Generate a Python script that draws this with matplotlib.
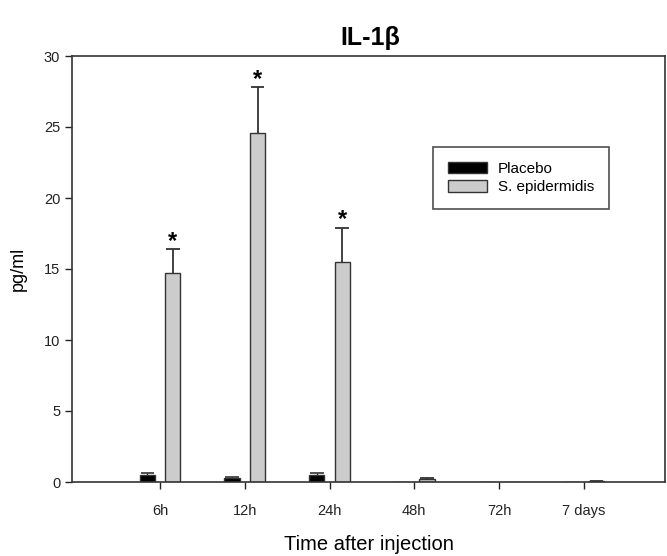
import matplotlib
matplotlib.use("Agg")
import matplotlib.pyplot as plt
import numpy as np

plt.rcParams['font.family'] = ['Liberation Sans', 'DejaVu Sans']

categories = ['6h', '12h', '24h', '48h', '72h', '7 days']
placebo = [0.5, 0.25, 0.5, 0.0, 0.0, 0.0]
placebo_err = [0.15, 0.1, 0.15, 0.0, 0.0, 0.0]
epi = [14.7, 24.6, 15.5, 0.22, 0.0, 0.06]
epi_err = [1.7, 3.2, 2.4, 0.05, 0.0, 0.02]
significant = [True, True, True, False, False, False]

fig = plt.figure(figsize=(6.67, 5.56), dpi=100)
ax = fig.add_axes([72/667, 1-482/556, (665-72)/667, (482-56)/556])

x = np.arange(1, len(categories) + 1)
w = 0.18
off = 0.15
edge = '#333333'
ax.bar(x - off, placebo, w, color='black', edgecolor=edge, linewidth=1, label='Placebo', zorder=2)
ax.bar(x + off, epi, w, color='#cccccc', edgecolor=edge, linewidth=1, label='S. epidermidis', zorder=2)

# upper-only error bars
pv = np.array(placebo); pe = np.array(placebo_err)
ev = np.array(epi); ee = np.array(epi_err)
cw = 0.16
mask_p = pe > 0
ax.vlines((x - off)[mask_p], pv[mask_p], (pv + pe)[mask_p], color=edge, lw=1, zorder=1)
ax.hlines((pv + pe)[mask_p], (x - off - cw/2)[mask_p], (x - off + cw/2)[mask_p], color=edge, lw=1.2, zorder=3)
mask_e = ee > 0
ax.vlines((x + off)[mask_e], ev[mask_e], (ev + ee)[mask_e], color=edge, lw=1.3, zorder=1)
ax.hlines((ev + ee)[mask_e], (x + off - cw/2)[mask_e], (x + off + cw/2)[mask_e], color=edge, lw=1.3, zorder=3)

for xi, v, e, s in zip(x, epi, epi_err, significant):
    if s:
        ax.text(xi + off, v + e + 0.55, '*', ha='center', va='center', fontsize=17,
                fontweight='bold')

ax.set_xlim(-0.04, 6.96)
ax.set_ylim(0, 30)
ax.set_xticks(x)
ax.set_xticklabels(categories, fontsize=10.5)
ax.set_yticks([0, 5, 10, 15, 20, 25, 30])
ax.tick_params(axis='both', direction='out', length=5, width=1, labelsize=10.5, colors='#222222')
ax.tick_params(axis='x', pad=11)
for sp in ax.spines.values():
    sp.set_linewidth(1.2)
    sp.set_color('#333333')

ax.set_ylabel('pg/ml', fontsize=13, labelpad=12)
ax.set_xlabel('Time after injection', fontsize=14.5, labelpad=12)

leg = ax.legend(loc='upper left', bbox_to_anchor=((433-72)/593, (482-147)/426),
                borderaxespad=0, fontsize=11, frameon=True, fancybox=False,
                edgecolor='#222222', handlelength=2.6, handleheight=0.8,
                borderpad=0.95, labelspacing=0.3, handletextpad=0.7)
leg.get_frame().set_linewidth(1.2)

fig.text(370/667, 1-38/556, 'IL-1β', ha='center', va='center', fontsize=18, fontweight='bold')

fig.savefig('out.png', dpi=100)
